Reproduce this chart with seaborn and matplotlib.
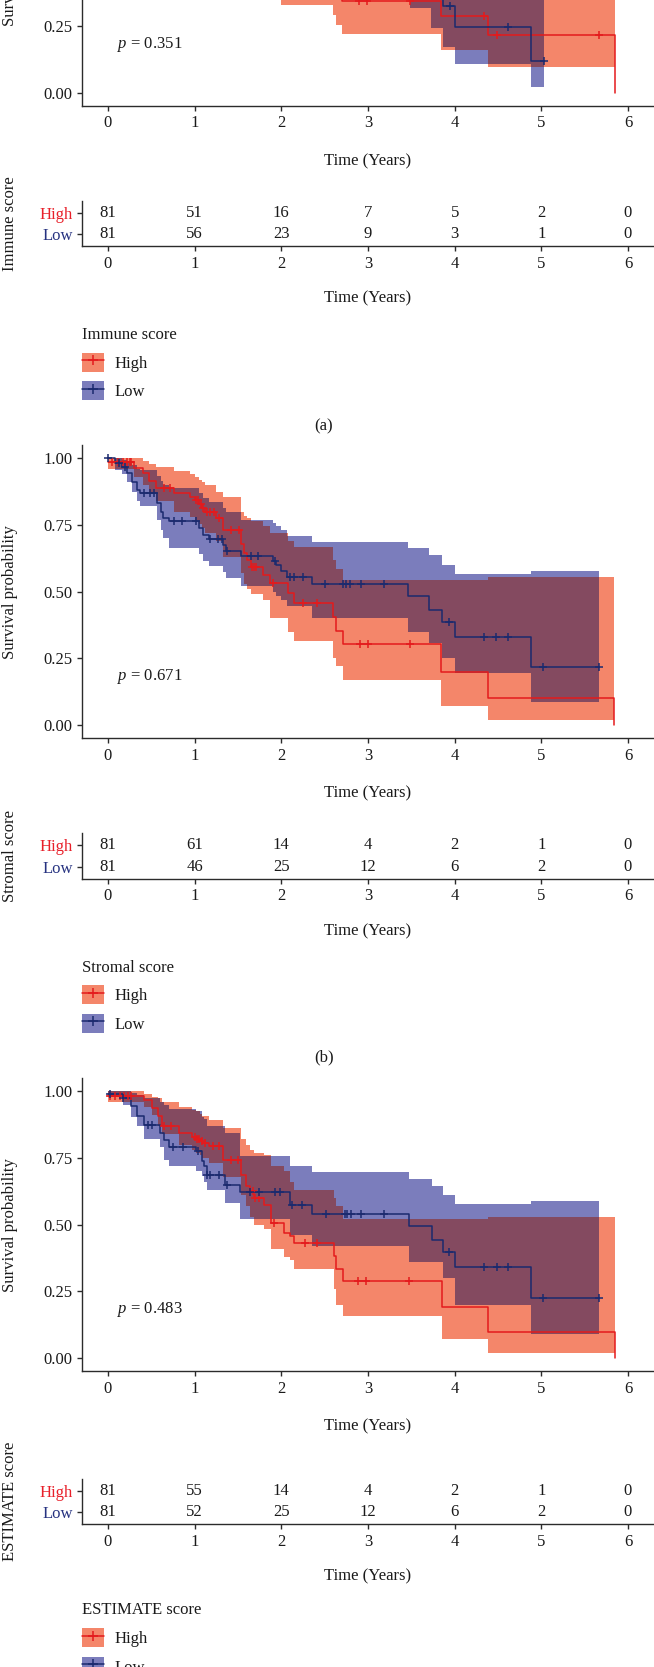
import numpy as np
import matplotlib
matplotlib.use("Agg")
import matplotlib.pyplot as plt
import seaborn as sns
from matplotlib.patches import Patch
from matplotlib.lines import Line2D
from matplotlib.legend_handler import HandlerTuple

# ---- data ----
TIME_TICKS = [0, 1, 2, 3, 4, 5, 6]
SURV_TICKS = [0.0, 0.25, 0.5, 0.75, 1.0]
SURV_TICK_LABELS = ["0.00", "0.25", "0.50", "0.75", "1.00"]
GROUPS = ["High", "Low"]

# (a) Immune score (only the lower part is visible)
immune_high_t = [0, 0.25, 0.5, 0.8, 1.1, 1.4, 1.7, 2.0, 2.3, 2.60, 2.63, 2.70, 3.84, 4.39, 5.85]
immune_high_s = [0.99, 0.95, 0.90, 0.85, 0.78, 0.70, 0.62, 0.55, 0.46, 0.40, 0.37, 0.343, 0.289, 0.216, 0.0]
immune_high_up = [1.0, 0.99, 0.97, 0.94, 0.89, 0.83, 0.76, 0.70, 0.63, 0.58, 0.56, 0.54, 0.50, 0.48, 0.48]
immune_high_lo = [0.96, 0.90, 0.83, 0.76, 0.68, 0.58, 0.46, 0.33, 0.33, 0.29, 0.254, 0.219, 0.161, 0.095, 0.095]
immune_high_cens = [0.1, 0.3, 0.6, 1.0, 1.3, 1.6, 2.2, 2.90, 2.99, 3.48, 4.34, 4.49, 5.67]

immune_low_t = [0, 0.3, 0.6, 0.9, 1.2, 1.5, 1.8, 2.1, 2.5, 3.0, 3.48, 3.73, 3.86, 4.00, 4.88, 5.03]
immune_low_s = [1.0, 0.95, 0.88, 0.80, 0.73, 0.66, 0.60, 0.54, 0.48, 0.42, 0.39, 0.352, 0.325, 0.245, 0.12, 0.12]
immune_low_up = [1.0, 0.99, 0.96, 0.91, 0.86, 0.80, 0.75, 0.70, 0.65, 0.60, 0.57, 0.54, 0.52, 0.48, 0.40, 0.40]
immune_low_lo = [1.0, 0.90, 0.81, 0.71, 0.62, 0.54, 0.47, 0.41, 0.37, 0.36, 0.316, 0.242, 0.17, 0.108, 0.022, 0.022]
immune_low_cens = [0.05, 0.4, 0.8, 1.1, 1.6, 2.3, 2.7, 3.95, 4.61, 5.03]

immune_risk_high = [81, 51, 16, 7, 5, 2, 0]
immune_risk_low = [81, 56, 23, 9, 3, 1, 0]

# (b) Stromal score
stromal_high_t = [0, 0.30, 0.40, 0.47, 0.55, 0.76, 0.95, 1.00, 1.05, 1.08, 1.12, 1.25, 1.33, 1.54,
                  1.57, 1.60, 1.65, 1.79, 1.87, 2.08, 2.15, 2.60, 2.63, 2.71, 3.84, 4.38, 5.84]
stromal_high_s = [0.987, 0.962, 0.944, 0.915, 0.887, 0.869, 0.856, 0.843, 0.83, 0.815, 0.80, 0.775, 0.73, 0.68,
                  0.645, 0.62, 0.594, 0.563, 0.531, 0.494, 0.457, 0.406, 0.352, 0.303, 0.20, 0.10, 0.0]
stromal_high_up = [1.0, 1.0, 0.99, 0.98, 0.966, 0.954, 0.94, 0.93, 0.92, 0.91, 0.90, 0.875, 0.854, 0.80,
                   0.785, 0.775, 0.766, 0.745, 0.72, 0.69, 0.668, 0.62, 0.585, 0.544, 0.544, 0.554, 0.554]
stromal_high_lo = [0.96, 0.93, 0.90, 0.87, 0.84, 0.80, 0.78, 0.77, 0.755, 0.74, 0.72, 0.69, 0.63, 0.57,
                   0.53, 0.51, 0.49, 0.469, 0.40, 0.35, 0.315, 0.25, 0.22, 0.169, 0.07, 0.018, 0.018]
stromal_high_cens = [0.05, 0.12, 0.17, 0.22, 0.25, 0.27, 0.65, 0.72, 1.02, 1.04, 1.07, 1.10, 1.14, 1.18,
                     1.22, 1.28, 1.42, 1.51, 1.66, 1.68, 1.71, 1.90, 2.25, 2.41, 2.91, 3.00, 3.48]

stromal_low_t = [0, 0.085, 0.16, 0.22, 0.28, 0.34, 0.37, 0.57, 0.61, 0.64, 0.70, 1.05, 1.10, 1.16,
                 1.33, 1.36, 1.53, 1.90, 1.94, 2.00, 2.06, 2.35, 3.46, 3.70, 3.85, 4.00, 4.88, 5.66]
stromal_low_s = [1.0, 0.981, 0.969, 0.944, 0.913, 0.881, 0.869, 0.831, 0.80, 0.775, 0.765, 0.737, 0.713, 0.697,
                 0.675, 0.652, 0.634, 0.616, 0.60, 0.579, 0.556, 0.529, 0.485, 0.43, 0.385, 0.33, 0.217, 0.217]
stromal_low_up = [1.0, 1.0, 0.995, 0.985, 0.975, 0.96, 0.955, 0.935, 0.915, 0.90, 0.89, 0.87, 0.85, 0.835,
                  0.815, 0.80, 0.77, 0.756, 0.745, 0.73, 0.708, 0.687, 0.662, 0.637, 0.601, 0.566, 0.579, 0.579]
stromal_low_lo = [1.0, 0.955, 0.94, 0.91, 0.875, 0.84, 0.82, 0.77, 0.73, 0.70, 0.665, 0.64, 0.616, 0.597,
                  0.575, 0.553, 0.522, 0.50, 0.483, 0.47, 0.445, 0.40, 0.35, 0.307, 0.25, 0.196, 0.087, 0.087]
stromal_low_cens = [0.0, 0.13, 0.20, 0.41, 0.49, 0.53, 0.76, 0.85, 1.02, 1.18, 1.27, 1.31, 1.37, 1.65, 1.73,
                    1.93, 2.10, 2.15, 2.25, 2.50, 2.71, 2.75, 2.79, 2.92, 3.19, 3.93, 4.34, 4.48, 4.61, 5.02, 5.66]

stromal_risk_high = [81, 61, 14, 4, 2, 1, 0]
stromal_risk_low = [81, 46, 25, 12, 6, 2, 0]

# (c) ESTIMATE score
estimate_high_t = [0, 0.41, 0.51, 0.58, 0.62, 0.82, 0.97, 1.02, 1.06, 1.09, 1.16, 1.33, 1.53, 1.59,
                   1.64, 1.68, 1.80, 1.88, 2.03, 2.10, 2.15, 2.61, 2.63, 2.71, 3.85, 4.38, 5.85]
estimate_high_s = [0.984, 0.969, 0.9375, 0.906, 0.87, 0.844, 0.83, 0.82, 0.812, 0.806, 0.794, 0.744, 0.6875, 0.644,
                   0.625, 0.60, 0.575, 0.506, 0.47, 0.456, 0.431, 0.381, 0.334, 0.2875, 0.191, 0.096, 0.0]
estimate_high_up = [1.0, 0.99, 0.98, 0.975, 0.96, 0.94, 0.93, 0.925, 0.915, 0.906, 0.894, 0.8625, 0.82, 0.80,
                    0.78, 0.77, 0.76, 0.72, 0.70, 0.66, 0.631, 0.60, 0.57, 0.52, 0.52, 0.53, 0.53]
estimate_high_lo = [0.96, 0.94, 0.91, 0.87, 0.84, 0.80, 0.78, 0.77, 0.76, 0.75, 0.73, 0.68, 0.61, 0.57,
                    0.53, 0.50, 0.485, 0.41, 0.38, 0.369, 0.334, 0.26, 0.20, 0.159, 0.071, 0.019, 0.019]
estimate_high_cens = [0.02, 0.08, 0.14, 0.19, 0.23, 0.27, 0.65, 0.73, 1.00, 1.03, 1.05, 1.08, 1.12, 1.21,
                      1.28, 1.42, 1.50, 1.67, 1.70, 1.74, 1.91, 2.27, 2.41, 2.89, 2.98, 3.47]

estimate_low_t = [0, 0.17, 0.27, 0.34, 0.41, 0.60, 0.65, 0.70, 1.01, 1.09, 1.11, 1.14, 1.35, 1.52,
                  2.10, 2.35, 3.47, 3.74, 3.86, 4.00, 4.88, 5.67]
estimate_low_s = [0.99, 0.975, 0.944, 0.906, 0.875, 0.844, 0.819, 0.79, 0.775, 0.74, 0.72, 0.685, 0.65, 0.622,
                  0.573, 0.54, 0.494, 0.444, 0.396, 0.341, 0.225, 0.225]
estimate_low_up = [1.0, 1.0, 0.995, 0.985, 0.975, 0.96, 0.95, 0.935, 0.925, 0.905, 0.895, 0.87, 0.845, 0.756,
                   0.72, 0.696, 0.672, 0.644, 0.6125, 0.577, 0.5875, 0.5875]
estimate_low_lo = [0.98, 0.95, 0.905, 0.87, 0.82, 0.79, 0.744, 0.72, 0.70, 0.684, 0.66, 0.631, 0.58, 0.52,
                   0.4625, 0.419, 0.36, 0.36, 0.30, 0.20, 0.09, 0.09]
estimate_low_cens = [0.02, 0.17, 0.46, 0.51, 0.75, 0.87, 1.04, 1.14, 1.18, 1.28, 1.37, 1.64, 1.74, 1.93, 1.98,
                     2.12, 2.24, 2.51, 2.73, 2.76, 2.80, 2.92, 3.19, 3.93, 4.34, 4.49, 4.61, 5.02, 5.67]

estimate_risk_high = [81, 55, 14, 4, 2, 1, 0]
estimate_risk_low = [81, 52, 25, 12, 6, 2, 0]

# ---- style ----
sns.set_theme(style="ticks")
plt.rcParams["font.family"] = ["Liberation Serif", "DejaVu Serif"]
plt.rcParams["mathtext.fontset"] = "custom"
plt.rcParams["mathtext.rm"] = "Liberation Serif"
plt.rcParams["mathtext.it"] = "Liberation Serif:italic"

W, H = 654, 1667
FS = 12
TEXT = "#1a1a1a"
SPINE = "#2b2b2b"
RED, NAVY = "#e41a1c", "#1b2a6e"
RED_FILL, NAVY_FILL, BOTH_FILL = "#f4866a", "#7b7dbc", "#844a60"
RED_TXT, NAVY_TXT = "#e8202a", "#263280"

panels = [
    dict(name="Immune score", p="0.351", tag="(a)",
         high=(immune_high_t, immune_high_s, immune_high_up, immune_high_lo, immune_high_cens),
         low=(immune_low_t, immune_low_s, immune_low_up, immune_low_lo, immune_low_cens),
         risk=(immune_risk_high, immune_risk_low)),
    dict(name="Stromal score", p="0.671", tag="(b)",
         high=(stromal_high_t, stromal_high_s, stromal_high_up, stromal_high_lo, stromal_high_cens),
         low=(stromal_low_t, stromal_low_s, stromal_low_up, stromal_low_lo, stromal_low_cens),
         risk=(stromal_risk_high, stromal_risk_low)),
    dict(name="ESTIMATE score", p="0.483", tag=None,
         high=(estimate_high_t, estimate_high_s, estimate_high_up, estimate_high_lo, estimate_high_cens),
         low=(estimate_low_t, estimate_low_s, estimate_low_up, estimate_low_lo, estimate_low_cens),
         risk=(estimate_risk_high, estimate_risk_low)),
]
# pixel layout per panel: y of S=0 line, y of "Low" risk row, legend top, panel tag
layout = [
    dict(km_zero=92.7, risk_low=234.3, legend_top=327, tag_y=426),
    dict(km_zero=725.0, risk_low=866.7, legend_top=959.5, tag_y=1057.7),
    dict(km_zero=1358.0, risk_low=1512.3, legend_top=1602.3, tag_y=None),
]
LEFT, RIGHT = 82, 654
UNIT = 266.7   # px per survival unit
ROW = 21.7     # px between risk rows


def rect(top, bottom):
    return [LEFT / W, 1 - bottom / H, (RIGHT - LEFT) / W, (bottom - top) / H]


def step_at(t, v, x):
    idx = np.searchsorted(np.asarray(t), np.asarray(x), side="right") - 1
    return np.asarray(v)[idx]


def style_axes(ax):
    sns.despine(ax=ax)
    for side in ("left", "bottom"):
        ax.spines[side].set_linewidth(1.0)
        ax.spines[side].set_color(SPINE)
    ax.tick_params(length=3.5, width=1.0, color=SPINE, labelsize=FS, labelcolor=TEXT, pad=3.2)
    ax.set_xlim(-0.3, 6.3)
    ax.set_xticks(TIME_TICKS)


def fig_text(fig, x, y, s, **kw):
    fig.text(x / W, 1 - y / H, s, fontsize=FS, color=TEXT, **kw)


fig = plt.figure(figsize=(W / 100, H / 100), dpi=100)

for panel, lay in zip(panels, layout):
    # survival curves
    km_top = lay["km_zero"] - 1.05 * UNIT
    km_bot = lay["km_zero"] + 0.05 * UNIT
    ax = fig.add_axes(rect(km_top, km_bot))
    style_axes(ax)
    ax.set_ylim(-0.05, 1.05)
    ax.set_yticks(SURV_TICKS)
    ax.set_yticklabels(SURV_TICK_LABELS)

    ht, hs, hup, hlo, hc = panel["high"]
    lt, ls, lup, llo, lc = panel["low"]
    ax.fill_between(ht, hlo, hup, step="post", color=RED_FILL, lw=0, zorder=1)
    ax.fill_between(lt, llo, lup, step="post", color=NAVY_FILL, lw=0, zorder=1)

    # overlap of the two confidence bands
    end = min(ht[-1], lt[-1])
    grid = np.unique(np.concatenate([ht, lt]))
    grid = np.append(grid[grid < end], end)
    o_up = np.minimum(step_at(ht, hup, grid), step_at(lt, lup, grid))
    o_lo = np.maximum(step_at(ht, hlo, grid), step_at(lt, llo, grid))
    ax.fill_between(grid, o_lo, np.maximum(o_up, o_lo), step="post", color=BOTH_FILL, lw=0, zorder=2)

    for (t, s, c), col in (((ht, hs, hc), RED), ((lt, ls, lc), NAVY)):
        sns.lineplot(x=t, y=s, drawstyle="steps-post", estimator=None, sort=False,
                     color=col, lw=1.1, ax=ax, zorder=3)
        ax.plot(c, step_at(t, s, c), ls="none", marker="+", ms=6, mew=1.1, color=col, zorder=4)

    ax.text(0.1, 0.18, r"$p$ = " + panel["p"], fontsize=FS, color=TEXT, ha="left", va="center")
    ax.set_xlabel("")
    ax.set_ylabel("")
    fig_text(fig, 10, (km_top + km_bot) / 2, "Survival probability",
             rotation=90, ha="center", va="center")
    fig_text(fig, (LEFT + RIGHT) / 2, km_bot + 55, "Time (Years)", ha="center", va="center")

    # number at risk table
    r_top = lay["risk_low"] - 1.55 * ROW
    r_bot = lay["risk_low"] + 0.55 * ROW
    rx = fig.add_axes(rect(r_top, r_bot))
    style_axes(rx)
    rx.set_ylim(-0.55, 1.55)
    rx.set_yticks([1, 0])
    rx.set_yticklabels(GROUPS)
    for lab, col in zip(rx.get_yticklabels(), (RED_TXT, NAVY_TXT)):
        lab.set_color(col)
    for row, counts in ((1, panel["risk"][0]), (0, panel["risk"][1])):
        for x, n in zip(TIME_TICKS, counts):
            rx.text(x, row, str(n), fontsize=FS, color=TEXT, ha="center", va="center")
    fig_text(fig, 10, (r_top + r_bot) / 2, panel["name"], rotation=90, ha="center", va="center")
    fig_text(fig, (LEFT + RIGHT) / 2, r_bot + 52.5, "Time (Years)", ha="center", va="center")

    # legend
    handles = [
        (Patch(fc=RED_FILL, ec="none"), Line2D([], [], color=RED, lw=1.1, marker="+", ms=7, mew=1.1)),
        (Patch(fc=NAVY_FILL, ec="none"), Line2D([], [], color=NAVY, lw=1.1, marker="+", ms=7, mew=1.1)),
    ]
    leg = fig.legend(handles, GROUPS, handler_map={tuple: HandlerTuple(ndivide=1, pad=0)},
                     loc="upper left", bbox_to_anchor=(LEFT / W, 1 - lay["legend_top"] / H),
                     frameon=False, title=panel["name"], alignment="left",
                     fontsize=FS, title_fontsize=FS, handlelength=1.32, handleheight=1.38,
                     handletextpad=0.65, labelspacing=0.58, borderpad=0, borderaxespad=0)
    for txt in leg.get_texts():
        txt.set_color(TEXT)
    leg.get_title().set_color(TEXT)

    if lay["tag_y"] is not None:
        fig_text(fig, 324, lay["tag_y"], panel["tag"], ha="center", va="center")

fig.savefig("out.png", dpi=100)
